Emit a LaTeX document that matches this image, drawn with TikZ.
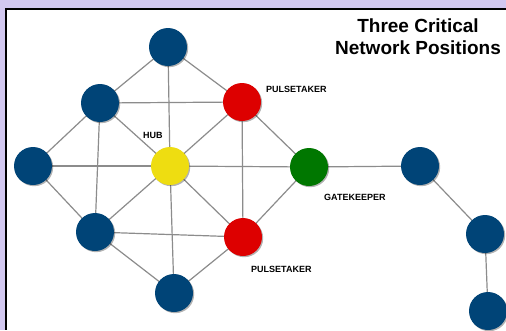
\documentclass[tikz,border=0pt]{standalone}
\usepackage{fontspec}
\setmainfont{Liberation Sans}
\usetikzlibrary{shadows}
\definecolor{lav}{RGB}{210,200,240}
\definecolor{nblue}{RGB}{0,68,119}
\definecolor{nred}{RGB}{221,0,0}
\definecolor{nyellow}{RGB}{238,221,17}
\definecolor{ngreen}{RGB}{0,119,0}
\definecolor{edgegray}{RGB}{140,140,140}
\pgfdeclarelayer{framelayer}
\pgfdeclarelayer{edgelayer}
\pgfsetlayers{framelayer,edgelayer,main}
\tikzset{
  dot/.style={circle,inner sep=0pt,minimum size=38pt,draw=none,
    drop shadow={shadow xshift=1.2pt,shadow yshift=-1.2pt,fill=black,opacity=0.3}},
  bluedot/.style={dot,fill=nblue},
  reddot/.style={dot,fill=nred},
  yellowdot/.style={dot,fill=nyellow},
  greendot/.style={dot,fill=ngreen},
  link/.style={draw=edgegray,line width=1.2pt},
  lbl/.style={font=\fontsize{9}{10}\selectfont\bfseries,inner sep=0pt,anchor=base west},
  ttl/.style={font=\fontsize{19}{22}\selectfont\bfseries,inner sep=0pt,anchor=base}
}
\begin{document}
\begin{tikzpicture}[x=1pt,y=-1pt]
\useasboundingbox (0,0) rectangle (506,330);
\begin{pgfonlayer}{framelayer}
\fill[lav] (0,0) rectangle (506,330);
\fill[black] (5,8) rectangle (506,330);
\fill[white] (7,10) rectangle (506,330);
\end{pgfonlayer}
% nodes
\node[bluedot] (top) at (168,47) {};
\node[bluedot] (lu) at (100,103) {};
\node[reddot] (ru) at (242,102) {};
\node[bluedot] (left) at (33,166) {};
\node[yellowdot] (hub) at (170,166) {};
\node[greendot] (gate) at (309,167) {};
\node[bluedot] (ll) at (95,232) {};
\node[reddot] (rl) at (243,237) {};
\node[bluedot] (bot) at (174,293) {};
\node[bluedot] (r1) at (420,166) {};
\node[bluedot] (r2) at (485,234) {};
\node[bluedot] (r3) at (488,311) {};
% edges
\begin{pgfonlayer}{edgelayer}
\path[link] (top.center) -- (lu.center);
\path[link] (top.center) -- (ru.center);
\path[link] (top.center) -- (hub.center);
\path[link] (lu.center) -- (ru.center);
\path[link] (lu.center) -- (left.center);
\path[link] (lu.center) -- (ll.center);
\path[link] (lu.center) -- (hub.center);
\path[link] (ru.center) -- (hub.center);
\path[link] (ru.center) -- (gate.center);
\path[link] (ru.center) -- (rl.center);
\path[link] (left.center) -- (hub.center);
\path[link] (left.center) -- (ll.center);
\path[link] (hub.center) -- (gate.center);
\path[link] (hub.center) -- (ll.center);
\path[link] (hub.center) -- (rl.center);
\path[link] (hub.center) -- (bot.center);
\path[link] (ll.center) -- (rl.center);
\path[link] (ll.center) -- (bot.center);
\path[link] (rl.center) -- (bot.center);
\path[link] (rl.center) -- (gate.center);
\path[link] (gate.center) -- (r1.center);
\path[link] (r1.center) -- (r2.center);
\path[link] (r2.center) -- (r3.center);
\end{pgfonlayer}
% labels
\node[lbl] (lhub) at (143,138) {HUB};
\node[lbl] (lpu) at (266,92) {PULSETAKER};
\node[lbl] (lpl) at (251,272) {PULSETAKER};
\node[lbl] (lgk) at (324,200) {GATEKEEPER};
\node[ttl] (t1) at (418,32) {Three Critical};
\node[ttl] (t2) at (418,54) {Network Positions};
\end{tikzpicture}
\end{document}
